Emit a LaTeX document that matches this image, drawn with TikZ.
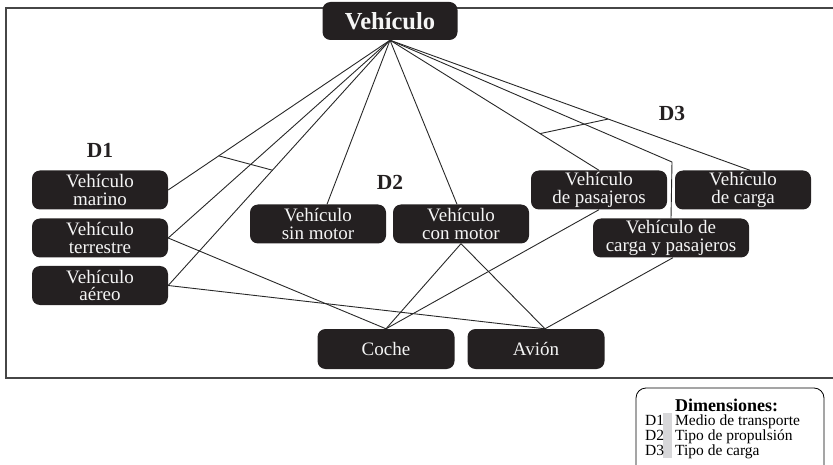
\documentclass[tikz,border=0pt]{standalone}
\usepackage{fontspec}
\setmainfont{Liberation Serif}
\usetikzlibrary{calc}
\definecolor{boxfill}{RGB}{36,32,33}
\definecolor{linkgray}{RGB}{40,40,40}
\definecolor{framegray}{RGB}{70,70,70}
\definecolor{bargray}{RGB}{215,215,217}
\definecolor{boxtext}{RGB}{245,245,245}
\begin{document}
\begin{tikzpicture}[x=1pt,y=-1pt,
  box/.style={fill=boxfill, text=boxtext, rounded corners=8pt, inner sep=0pt,
    minimum width=136pt, minimum height=39pt, align=center,
    font=\fontsize{19}{17.5}\selectfont},
  link/.style={draw=linkgray, line width=0.9pt},
  dimlabel/.style={font=\fontsize{21.5}{21.5}\selectfont\bfseries, text=boxfill},
  legendtxt/.style={anchor=base west, inner sep=0pt, font=\fontsize{15.5}{15.5}\selectfont}
]
\useasboundingbox (0,0) rectangle (833,465);
\clip (0,0) rectangle (833,465);

% open frame around the hierarchy
\draw[framegray, line width=1.4pt] (840,8) -- (6,8) -- (6,378) -- (840,378);

% nodes
\node[box, minimum width=135pt, minimum height=38pt,
  font=\fontsize{24.5}{24.5}\selectfont\bfseries] (top) at (390,21) {Vehículo};

\node[dimlabel] (d1) at (100,150) {D1};
\node[dimlabel] (d2) at (390,182) {D2};
\node[dimlabel] (d3) at (672,113) {D3};

\node[box] (marino) at (100,190) {Vehículo\\marino};
\node[box] (terrestre) at (100,238) {Vehículo\\terrestre};
\node[box] (aereo) at (100,285.5) {Vehículo\\aéreo};

\node[box] (sinmotor) at (318,224) {Vehículo\\sin motor};
\node[box] (conmotor) at (461,224) {Vehículo\\con motor};

\node[box] (pasajeros) at (599,190) {Vehículo\\de pasajeros};
\node[box] (carga) at (743,190) {Vehículo\\de carga};
\node[box, minimum width=156pt] (cyp) at (671,238) {Vehículo de\\carga y pasajeros};

\node[box, minimum width=137pt, minimum height=40pt] (coche) at (386,349) {Coche};
\node[box, minimum width=137pt, minimum height=40pt] (avion) at (536,349) {Avión};

% links from the root
\draw[link] (top.south) -- (marino.east);
\draw[link] (top.south) -- (terrestre.east);
\draw[link] (top.south) -- (aereo.east);
\draw[link] (top.south) -- ([xshift=9pt]sinmotor.north);
\draw[link] (top.south) -- ([xshift=-4pt]conmotor.north);
\draw[link] (top.south) -- (pasajeros.north);
\draw[link] (top.south) -- ([xshift=7pt]carga.north);
\coordinate (bend) at (672,162);
\draw[link] (top.south) -- (bend) -- (cyp.north);

% dimension cross bars
\draw[link] ($(top.south)!0.772!(marino.east)$) -- ($(top.south)!0.53!(aereo.east)$);
\draw[link] ($(top.south)!0.718!(pasajeros.north)$) -- ($(top.south)!0.606!([xshift=7pt]carga.north)$);

% links to the concrete vehicles
\draw[link] (terrestre.east) -- (coche.north);
\draw[link] (aereo.east) -- ([xshift=9pt]avion.north);
\draw[link] (conmotor.south) -- (coche.north);
\draw[link] (conmotor.south) -- ([xshift=9pt]avion.north);
\draw[link] (pasajeros.south) -- (coche.north);
\draw[link] ([xshift=2pt]cyp.south) -- ([xshift=9pt]avion.north);

% legend
\node[draw=black, line width=0.8pt, rounded corners=10pt, minimum width=188pt,
  minimum height=90pt, inner sep=0pt] (legend) at (730,433) {};
\node[fill=bargray, inner sep=0pt, minimum width=9pt, minimum height=45pt] (bar) at (667.5,435.5) {};
\node[anchor=base, inner sep=0pt, font=\fontsize{18}{18}\selectfont\bfseries] (ltitle) at (726.5,411) {Dimensiones:};
\node[legendtxt] (k1) at (645,425.5) {D1};
\node[legendtxt] (k2) at (645,440.5) {D2};
\node[legendtxt] (k3) at (645,455.5) {D3};
\node[legendtxt] (v1) at (675,425.5) {Medio de transporte};
\node[legendtxt] (v2) at (675,440.5) {Tipo de propulsión};
\node[legendtxt] (v3) at (675,455.5) {Tipo de carga};
\end{tikzpicture}
\end{document}
